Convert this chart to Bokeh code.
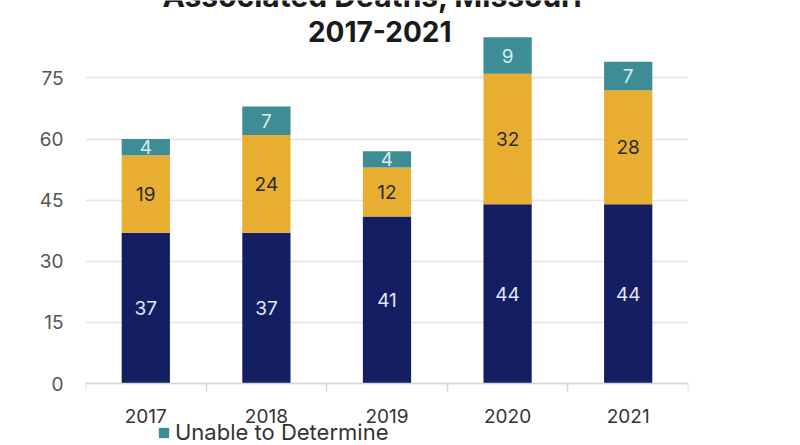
from bokeh.plotting import figure
from bokeh.models import FixedTicker, Legend, LegendItem, Label, ColumnDataSource, Range1d
from bokeh.core.properties import value
from bokeh.embed import file_html
from bokeh.resources import INLINE

years = ["2017", "2018", "2019", "2020", "2021"]
series_a = [37, 37, 41, 44, 44]
series_b = [19, 24, 12, 32, 28]
unable = [4, 7, 4, 9, 7]
y_ticks = [0, 15, 30, 45, 60, 75]
title_line1 = "Associated Deaths, Missouri"
title_line2 = "2017-2021"
legend_label = "Unable to Determine"

FONT = "Inter"
NAVY = "#141e63"
GOLD = "#e8ae31"
TEAL = "#3e8c95"

xs = [i + 0.5 for i in range(len(years))]
bounds = [float(i) for i in range(len(years) + 1)]
src = ColumnDataSource(dict(x=xs, a=series_a, b=series_b, u=unable))

p = figure(width=800, height=445, x_range=Range1d(0, len(years)), y_range=Range1d(-15.2, 94),
           output_backend="svg", toolbar_location=None,
           min_border_left=85, min_border_right=112, min_border_top=0, min_border_bottom=0)
p.outline_line_color = None
p.background_fill_color = "white"
p.border_fill_color = "white"

rs = p.vbar_stack(["a", "b", "u"], x="x", width=0.4, source=src,
                  color=[NAVY, GOLD, TEAL], line_color=None)

# segment labels
def add_labels(bottoms, vals, color):
    ys = [b + v / 2 for b, v in zip(bottoms, vals)]
    s = ColumnDataSource(dict(x=xs, y=ys, t=[str(v) for v in vals]))
    p.text(x="x", y="y", text="t", source=s, text_align="center", text_baseline="middle",
           text_font=value(FONT), text_font_size="19px", text_color=color)

zeros = [0] * len(years)
add_labels(zeros, series_a, "#e4e6f2")
add_labels(series_a, series_b, "#2a2a2a")
add_labels([a + b for a, b in zip(series_a, series_b)], unable, "#d4ecee")

# axes
p.xaxis.fixed_location = 0
p.xaxis.ticker = FixedTicker(ticks=xs, minor_ticks=bounds)
p.xaxis.major_label_overrides = {x: y for x, y in zip(xs, years)}
p.xaxis.axis_line_color = "#d6d6d6"
p.xaxis.axis_line_width = 1.5
p.xaxis.major_tick_line_color = None
p.xaxis.major_tick_out = 0
p.xaxis.major_tick_in = 0
p.xaxis.minor_tick_line_color = "#d6d6d6"
p.xaxis.minor_tick_line_width = 1.5
p.xaxis.minor_tick_out = 8
p.xaxis.minor_tick_in = 0
p.xaxis.major_label_standoff = 17
p.xaxis.major_label_text_font = FONT
p.xaxis.major_label_text_font_size = "19px"
p.xaxis.major_label_text_color = "#333333"

p.yaxis.ticker = FixedTicker(ticks=y_ticks)
p.yaxis.axis_line_color = None
p.yaxis.major_tick_line_color = None
p.yaxis.minor_tick_line_color = None
p.yaxis.major_tick_out = 0
p.yaxis.major_tick_in = 0
p.yaxis.major_label_standoff = 22
p.yaxis.major_label_text_font = FONT
p.yaxis.major_label_text_font_size = "19px"
p.yaxis.major_label_text_color = "#555555"

p.xgrid.grid_line_color = None
p.ygrid.ticker = FixedTicker(ticks=y_ticks)
p.ygrid.grid_line_color = "#e4e4e4"
p.ygrid.grid_line_width = 1.5

# title (first line cut off at the top, as in the source image)
p.add_layout(Label(x=2.38, y=95.2, text=title_line1, text_align="center", text_baseline="alphabetic",
                   text_font=FONT, text_font_style="bold", text_font_size="30px",
                   text_color="#1a1a1a"))
p.add_layout(Label(x=2.44, y=86.4, text=title_line2, text_align="center", text_baseline="alphabetic",
                   text_font=FONT, text_font_style="bold", text_font_size="28px",
                   text_color="#1a1a1a"))

legend = Legend(items=[LegendItem(label=legend_label, renderers=[rs[2]])],
                location=(72, 0), padding=0, margin=0, spacing=0,
                glyph_width=13, glyph_height=13, label_standoff=5, label_height=20,
                label_text_font=FONT, label_text_font_size="22px", label_text_color="#333333",
                border_line_color=None, background_fill_alpha=0)
p.add_layout(legend, "center")

open("out.html", "w").write(file_html(p, INLINE))
